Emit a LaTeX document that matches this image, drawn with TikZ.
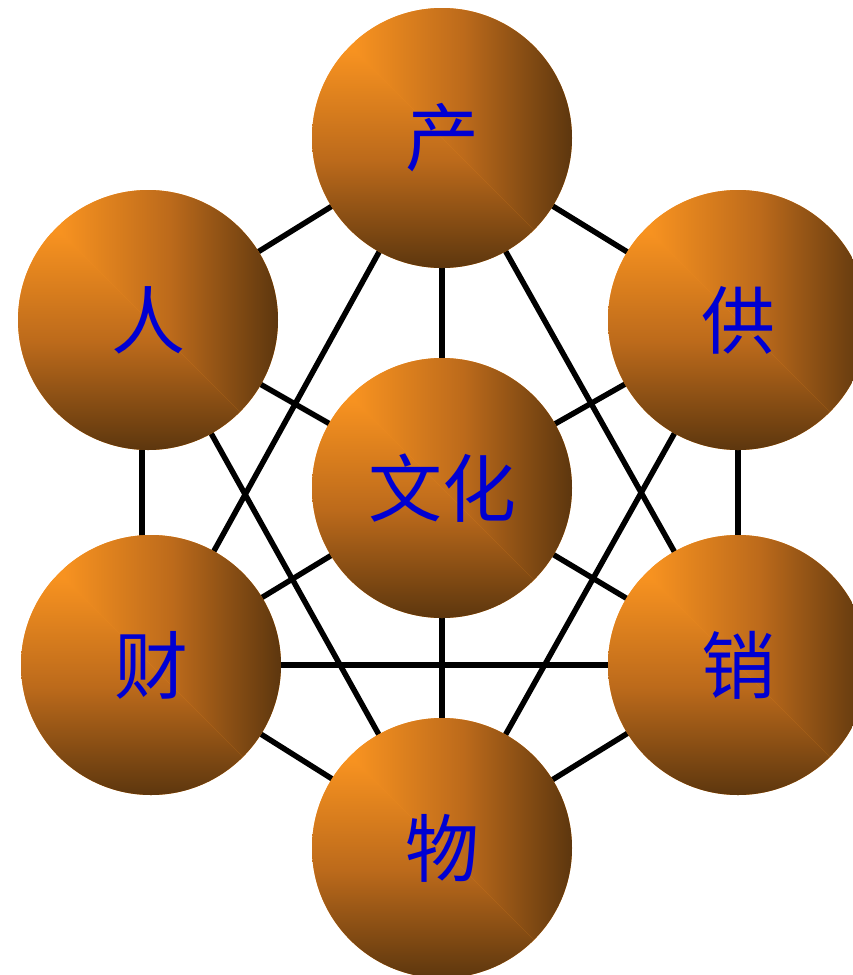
\documentclass[tikz,border=0pt]{standalone}
\usepackage{fontspec}
\newfontfamily\cjk{Noto Sans CJK SC}
\usetikzlibrary{backgrounds}
\definecolor{ballhi}{RGB}{247,146,32}
\definecolor{ballmid}{RGB}{188,106,27}
\definecolor{balllo}{RGB}{92,54,14}
\definecolor{txtblue}{RGB}{0,0,210}
\tikzset{
  ball/.style={circle, minimum size=260pt, inner sep=0pt, font=\cjk\fontsize{74}{74}\selectfont, text=txtblue,
    path picture={
      \fill[ballhi] ([shift={(-140pt,-140pt)}]path picture bounding box.center) rectangle ([shift={(140pt,140pt)}]path picture bounding box.center);
      \shade[left color=ballhi, right color=balllo, middle color=ballmid]
        ([shift={(-87pt,87pt)}]path picture bounding box.center) --
        ([shift={(131pt,-131pt)}]path picture bounding box.center) --
        ([shift={(131pt,136pt)}]path picture bounding box.center) --
        ([shift={(-87pt,136pt)}]path picture bounding box.center) -- cycle;
      \shade[top color=ballhi, bottom color=balllo, middle color=ballmid]
        ([shift={(-87pt,87pt)}]path picture bounding box.center) --
        ([shift={(131pt,-131pt)}]path picture bounding box.center) --
        ([shift={(-136pt,-131pt)}]path picture bounding box.center) --
        ([shift={(-136pt,87pt)}]path picture bounding box.center) -- cycle;
    }},
  link/.style={line width=5.5pt, black}
}
\begin{document}
\begin{tikzpicture}[x=1pt,y=-1pt]
\useasboundingbox (0,0) rectangle (853,975);
\node[ball] (chan) at (442,138) {产};
\node[ball] (ren)  at (148,320) {人};
\node[ball] (gong) at (738,320) {供};
\node[ball] (wh)   at (442,488) {文化};
\node[ball] (cai)  at (151,665) {财};
\node[ball] (xiao) at (738,665) {销};
\node[ball] (wu)   at (442,848) {物};
\begin{scope}[on background layer]
\foreach \a/\b in {chan/ren, chan/gong, gong/xiao, cai/wu, xiao/wu,
  wh/chan, wh/ren, wh/gong, wh/cai, wh/xiao, wh/wu,
  chan/cai, chan/xiao, ren/wu, gong/wu, cai/xiao}
  \draw[link] (\a.center) -- (\b.center);
\draw[link] ([xshift=-6pt]ren.center) -- ([xshift=-9pt]cai.center);
\end{scope}
\end{tikzpicture}
\end{document}
